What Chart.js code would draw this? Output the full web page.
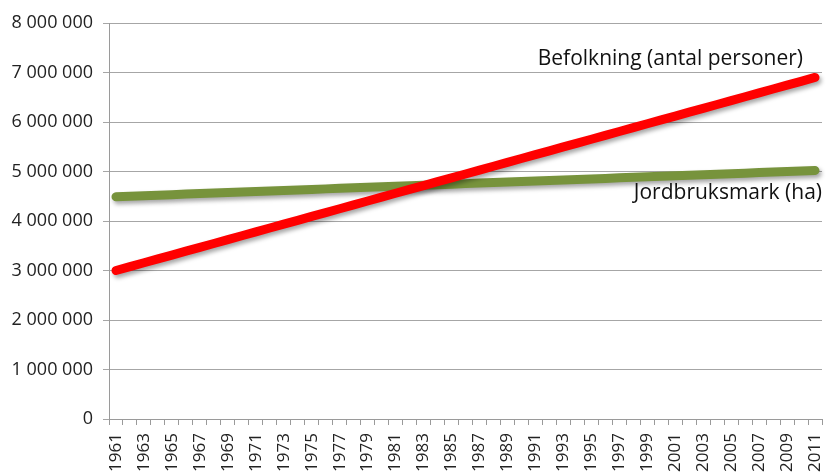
<!DOCTYPE html>
<html>
<head>
<meta charset="utf-8">
<script src="https://cdn.jsdelivr.net/npm/chart.js@4/dist/chart.umd.min.js"></script>
<style>
  html, body { margin: 0; padding: 0; background: #fff; }
  #wrap { width: 829px; height: 472px; }
</style>
</head>
<body>
<div id="wrap"><canvas id="myChart"></canvas></div>
<script>
const years = [
  1961, 1962, 1963, 1964, 1965, 1966, 1967, 1968, 1969, 1970,
  1971, 1972, 1973, 1974, 1975, 1976, 1977, 1978, 1979, 1980,
  1981, 1982, 1983, 1984, 1985, 1986, 1987, 1988, 1989, 1990,
  1991, 1992, 1993, 1994, 1995, 1996, 1997, 1998, 1999, 2000,
  2001, 2002, 2003, 2004, 2005, 2006, 2007, 2008, 2009, 2010, 2011
];

// Befolkning (antal personer)
const befolkning = [
  3000000, 3078000, 3156000, 3234000, 3312000, 3390000, 3468000, 3546000, 3624000, 3702000,
  3780000, 3858000, 3936000, 4014000, 4092000, 4170000, 4248000, 4326000, 4404000, 4482000,
  4560000, 4638000, 4716000, 4794000, 4872000, 4950000, 5028000, 5106000, 5184000, 5262000,
  5340000, 5418000, 5496000, 5574000, 5652000, 5730000, 5808000, 5886000, 5964000, 6042000,
  6120000, 6198000, 6276000, 6354000, 6432000, 6510000, 6588000, 6666000, 6744000, 6822000,
  6900000
];

// Jordbruksmark (ha)
const jordbruksmark = [
  4490000, 4501000, 4511000, 4522000, 4532000, 4543000, 4554000, 4564000, 4575000, 4585000,
  4596000, 4607000, 4617000, 4628000, 4638000, 4649000, 4660000, 4670000, 4681000, 4691000,
  4702000, 4713000, 4723000, 4734000, 4744000, 4755000, 4766000, 4776000, 4787000, 4797000,
  4808000, 4819000, 4829000, 4840000, 4850000, 4861000, 4872000, 4882000, 4893000, 4903000,
  4914000, 4925000, 4935000, 4946000, 4956000, 4967000, 4978000, 4988000, 4999000, 5009000,
  5020000
];

const yTicks = [0, 1000000, 2000000, 3000000, 4000000, 5000000, 6000000, 7000000, 8000000];

const seriesNames = ['Befolkning (antal personer)', 'Jordbruksmark (ha)'];

const FONT = '"Open Sans", "Liberation Sans", sans-serif';

function spaced(v) {
  return String(v).replace(/\B(?=(\d{3})+(?!\d))/g, ' ');
}

// soft drop shadow under the thick lines
const lineShadow = {
  id: 'lineShadow',
  beforeDatasetDraw(chart) {
    const ctx = chart.ctx;
    ctx.save();
    ctx.shadowColor = 'rgba(0,0,0,0.35)';
    ctx.shadowBlur = 4;
    ctx.shadowOffsetX = 2;
    ctx.shadowOffsetY = 3;
  },
  afterDatasetDraw(chart) {
    chart.ctx.restore();
  }
};

// series names written next to the end of each line
const endLabels = {
  id: 'endLabels',
  afterDatasetsDraw(chart) {
    const ctx = chart.ctx;
    const offsets = [{ dx: -12, dy: -18 }, { dx: 7, dy: 23 }];
    ctx.save();
    ctx.font = '21px ' + FONT;
    ctx.fillStyle = '#111';
    ctx.textAlign = 'right';
    ctx.textBaseline = 'middle';
    chart.data.datasets.forEach((ds, i) => {
      const pts = chart.getDatasetMeta(i).data;
      const last = pts[pts.length - 1];
      ctx.fillText(seriesNames[i], last.x + offsets[i].dx, last.y + offsets[i].dy);
    });
    ctx.restore();
  }
};

const ctx = document.getElementById('myChart').getContext('2d');

new Chart(ctx, {
  type: 'line',
  data: {
    labels: years.map(String),
    datasets: [
      {
        label: seriesNames[0],
        data: befolkning,
        borderColor: '#ff0000',
        borderWidth: 9,
        borderCapStyle: 'round',
        borderJoinStyle: 'round',
        pointRadius: 0,
        fill: false,
        tension: 0
      },
      {
        label: seriesNames[1],
        data: jordbruksmark,
        borderColor: '#77933c',
        borderWidth: 9,
        borderCapStyle: 'round',
        borderJoinStyle: 'round',
        pointRadius: 0,
        fill: false,
        tension: 0
      }
    ]
  },
  options: {
    responsive: true,
    maintainAspectRatio: false,
    animation: false,
    layout: { padding: { top: 23, right: 7, left: 0, bottom: 0 } },
    plugins: {
      legend: { display: false },
      tooltip: { enabled: false }
    },
    scales: {
      x: {
        offset: true,
        grid: {
          offset: true,
          drawOnChartArea: false,
          drawTicks: true,
          tickLength: 6,
          color: '#9a9a9a'
        },
        border: { color: '#9a9a9a', width: 1 },
        ticks: {
          autoSkip: false,
          minRotation: 90,
          maxRotation: 90,
          padding: 8,
          color: '#222',
          font: { family: FONT, size: 17 },
          callback: function (val, i) {
            return i % 2 === 0 ? this.getLabelForValue(val) : '';
          }
        },
        afterFit(scale) {
          scale.height = 53;
          // let the rotated end labels hang over instead of shrinking the plot
          scale.paddingLeft = 0;
          scale.paddingRight = 0;
        }
      },
      y: {
        min: 0,
        max: 8000000,
        afterBuildTicks(scale) {
          scale.ticks = yTicks.map(v => ({ value: v }));
        },
        grid: {
          color: '#a6a6a6',
          drawTicks: true,
          tickLength: 6
        },
        border: { color: '#9a9a9a', width: 1 },
        ticks: {
          padding: 10,
          color: '#222',
          font: { family: FONT, size: 18 },
          callback: v => spaced(v)
        },
        afterFit(scale) { scale.width = 109; }
      }
    }
  },
  plugins: [lineShadow, endLabels]
});
</script>
</body>
</html>
